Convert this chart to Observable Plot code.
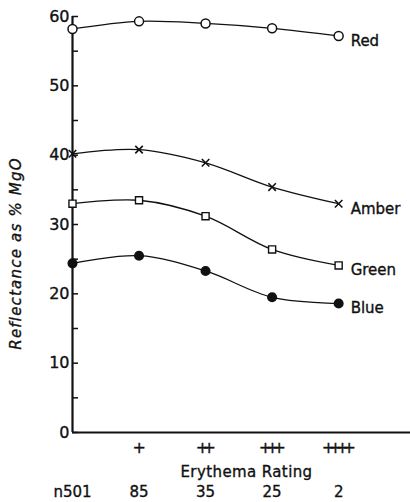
<!DOCTYPE html>
<html><head><meta charset="utf-8">
<script src="https://cdn.jsdelivr.net/npm/d3@7"></script>
<script src="https://cdn.jsdelivr.net/npm/@observablehq/plot@0.6"></script>
<style>
body{margin:0;background:#fff;}
#chart svg{font-family:"DejaVu Sans",sans-serif;}
#chart svg text{stroke:#111;stroke-width:0.35px;paint-order:normal;}
</style></head><body><div id="chart"></div>
<script>
const positions = [0, 1, 2, 3, 4];
const ratingLabels = ["", "+", "++", "+++", "++++"];
const counts = ["n501", "85", "35", "25", "2"];
const seriesNames = ["Red", "Amber", "Green", "Blue"];
const red = [58.2, 59.3, 59.0, 58.3, 57.2];
const amber = [40.2, 40.8, 38.9, 35.4, 33.0];
const green = [33.0, 33.5, 31.2, 26.4, 24.1];
const blue = [24.4, 25.5, 23.3, 19.5, 18.6];
const majorTicks = [0, 10, 20, 30, 40, 50, 60];
const minorTicks = [5, 15, 25, 35, 45, 55];
const yLabel = "Reflectance as % MgO";
const xLabel = "Erythema Rating";

const seriesValues = {Red: red, Amber: amber, Green: green, Blue: blue};
const rows = seriesNames.flatMap(s => positions.map((p, i) => ({series: s, x: p, value: seriesValues[s][i]})));
const lastRows = rows.filter(d => d.x === positions[positions.length - 1]);
const of = s => rows.filter(d => d.series === s);

const plot = Plot.plot({
  width: 410, height: 502,
  marginLeft: 72, marginRight: 0, marginTop: 16, marginBottom: 70,
  x: {domain: [0, 5.08], axis: null},
  y: {domain: [0, 60], axis: null},
  style: {fontFamily: "DejaVu Sans", fontSize: "15px", color: "#111", background: "white"},
  marks: [
    Plot.axisY({ticks: majorTicks, tickSize: -6, tickPadding: 9, label: null, strokeWidth: 1.5, fontSize: 16}),
    Plot.axisY({ticks: minorTicks, tickSize: -6, tickFormat: () => "", label: null, strokeWidth: 1.5}),
    Plot.text([1, 2, 3, 4], {x: d => d, text: d => ratingLabels[d], frameAnchor: "bottom", dy: 15, lineAnchor: "middle", textAnchor: "middle", fontSize: 16}),
    Plot.axisX({ticks: positions, tickFormat: i => counts[i], tickSize: 0, tickPadding: 54, label: null}),
    Plot.ruleX([0], {y1: 0, y2: 60, strokeWidth: 2.2, stroke: "#111"}),
    Plot.ruleY([0], {strokeWidth: 2.2, stroke: "#111"}),
    Plot.text([xLabel], {text: d => d, frameAnchor: "bottom", dy: 40, dx: 5, lineAnchor: "middle", textAnchor: "middle"}),
    Plot.text([yLabel], {text: d => d, frameAnchor: "left", rotate: -90, dx: -56, dy: 29, fontStyle: "italic", lineAnchor: "middle", textAnchor: "middle"}),
    Plot.line(rows, {x: "x", y: "value", z: "series", curve: "catmull-rom", stroke: "#111", strokeWidth: 1.3}),
    Plot.dot(of("Red"), {x: "x", y: "value", r: 4.5, fill: "white", stroke: "#111", strokeWidth: 1.5}),
    Plot.dot(of("Amber"), {x: "x", y: "value", symbol: "times", r: 3.5, stroke: "#111", strokeWidth: 1.6}),
    Plot.dot(of("Green"), {x: "x", y: "value", symbol: "square", r: 4, fill: "white", stroke: "#111", strokeWidth: 1.4}),
    Plot.dot(of("Blue"), {x: "x", y: "value", r: 4.3, fill: "#111", stroke: "#111"}),
    Plot.text(lastRows, {x: "x", y: "value", text: "series", dx: 12, dy: 5, textAnchor: "start"})
  ]
});
d3.select(plot).selectAll("text")
  .filter(function () { return /^\++$/.test(this.textContent); })
  .style("letter-spacing", "-6.5px")
  .attr("dx", "-3");
d3.select(plot).selectAll("text")
  .filter(function () { return this.textContent === yLabel; })
  .style("letter-spacing", "1.2px");
d3.select(plot).selectAll("text")
  .filter(function () { return this.textContent === xLabel; })
  .style("letter-spacing", "0.4px");
document.getElementById("chart").appendChild(plot);
</script></body></html>
